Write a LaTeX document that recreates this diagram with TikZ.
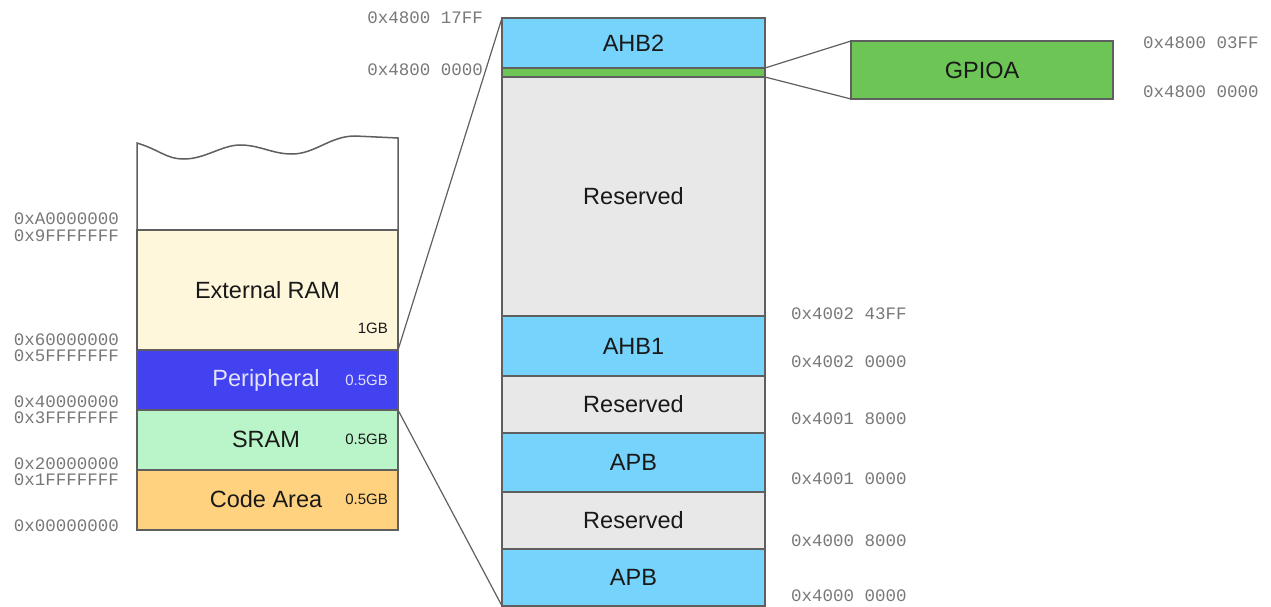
\documentclass[tikz,border=0pt]{standalone}
\usepackage{fontspec}
\setmainfont{Liberation Sans}
\newfontfamily\addrfont{Liberation Mono}
\definecolor{edge}{RGB}{95,95,95}
\definecolor{extram}{RGB}{255,247,220}
\definecolor{periph}{RGB}{66,66,240}
\definecolor{sram}{RGB}{186,245,202}
\definecolor{codearea}{RGB}{255,210,128}
\definecolor{bus}{RGB}{117,211,252}
\definecolor{resv}{RGB}{232,232,232}
\definecolor{gpio}{RGB}{108,197,84}
\definecolor{addr}{RGB}{120,120,120}
\definecolor{txt}{RGB}{25,25,25}
\definecolor{lighttxt}{RGB}{226,226,255}
\tikzset{
  region/.style={draw=edge, line width=1.5pt, inner sep=0pt, outer sep=0pt, text=txt,
    font=\fontsize{23.5}{23.5}\selectfont},
  addrlbl/.style={inner sep=0pt, text=addr, font=\addrfont\fontsize{17.5}{17.5}\selectfont},
  sizelbl/.style={inner sep=0pt, anchor=east, text=txt, font=\fontsize{15}{15}\selectfont},
  bigtxt/.style={inner sep=0pt, font=\fontsize{23.5}{23.5}\selectfont},
  zoomline/.style={draw=edge, line width=1.2pt}
}
\begin{document}
\begin{tikzpicture}[x=1pt,y=-1pt]
\useasboundingbox (0,0) rectangle (1271,607);
% left column top (wavy)
\draw[edge, line width=1.5pt, fill=white] (137,230) -- (137,143)
  .. controls (160,150) and (166,159) .. (184,159)
  .. controls (205,159) and (222,145) .. (240,145)
  .. controls (260,145) and (272,154) .. (292,154)
  .. controls (315,154) and (330,136) .. (355,136)
  -- (398,138) -- (398,230);
% left column
\node[region, fill=extram, minimum width=261pt, minimum height=120pt] (ext) at (267.5,290) {External RAM};
\node[region, fill=periph, minimum width=261pt, minimum height=60pt] (per) at (267.5,380) {};
\node[region, fill=sram, minimum width=261pt, minimum height=60pt] (sram) at (267.5,440) {};
\node[region, fill=codearea, minimum width=261pt, minimum height=60pt] (code) at (267.5,500) {};
\node[bigtxt, text=lighttxt] (pertxt) at (266,380) {Peripheral};
\node[bigtxt, text=txt] (sramtxt) at (266,439) {SRAM};
\node[bigtxt, text=txt] (codetxt) at (266,499) {Code Area};
\node[sizelbl] (s1) at (388,328) {1GB};
\node[sizelbl, text=lighttxt] (s2) at (388,380) {0.5GB};
\node[sizelbl] (s3) at (388,439) {0.5GB};
\node[sizelbl] (s4) at (388,499) {0.5GB};
% left addresses
\node[addrlbl, anchor=east] (a1) at (119,219) {0xA0000000};
\node[addrlbl, anchor=east] (a2) at (119,236) {0x9FFFFFFF};
\node[addrlbl, anchor=east] (a3) at (119,340) {0x60000000};
\node[addrlbl, anchor=east] (a4) at (119,356) {0x5FFFFFFF};
\node[addrlbl, anchor=east] (a5) at (119,402) {0x40000000};
\node[addrlbl, anchor=east] (a6) at (119,418) {0x3FFFFFFF};
\node[addrlbl, anchor=east] (a7) at (119,464) {0x20000000};
\node[addrlbl, anchor=east] (a8) at (119,480) {0x1FFFFFFF};
\node[addrlbl, anchor=east] (a9) at (119,526) {0x00000000};
% middle column
\node[region, fill=bus, minimum width=263pt, minimum height=50pt] (ahb2) at (633.5,43) {AHB2};
\node[region, fill=resv, minimum width=263pt, minimum height=239pt] (res1) at (633.5,196.5) {Reserved};
\node[region, fill=gpio, line width=1.2pt, minimum width=263pt, minimum height=9pt] (band) at (633.5,72.5) {};
\node[region, fill=bus, minimum width=263pt, minimum height=60pt] (ahb1) at (633.5,346) {AHB1};
\node[region, fill=resv, minimum width=263pt, minimum height=57pt] (res2) at (633.5,404.5) {Reserved};
\node[region, fill=bus, minimum width=263pt, minimum height=59pt] (apb1) at (633.5,462.5) {APB};
\node[region, fill=resv, minimum width=263pt, minimum height=57pt] (res3) at (633.5,520.5) {Reserved};
\node[region, fill=bus, minimum width=263pt, minimum height=57pt] (apb2) at (633.5,577.5) {APB};
% GPIOA
\node[region, fill=gpio, minimum width=262pt, minimum height=58pt] (gpioa) at (982,70) {GPIOA};
% zoom lines
\draw[zoomline] (per.north east) -- (ahb2.north west);
\draw[zoomline] (per.south east) -- (apb2.south west);
\draw[zoomline] (band.north east) -- (gpioa.north west);
\draw[zoomline] (band.south east) -- (gpioa.south west);
% middle addresses
\node[addrlbl, anchor=east] (m1) at (483,18) {0x4800 17FF};
\node[addrlbl, anchor=east] (m2) at (483,70) {0x4800 0000};
\node[addrlbl, anchor=west] (r1) at (791,314) {0x4002 43FF};
\node[addrlbl, anchor=west] (r2) at (791,362) {0x4002 0000};
\node[addrlbl, anchor=west] (r3) at (791,419) {0x4001 8000};
\node[addrlbl, anchor=west] (r4) at (791,479) {0x4001 0000};
\node[addrlbl, anchor=west] (r5) at (791,541) {0x4000 8000};
\node[addrlbl, anchor=west] (r6) at (791,596) {0x4000 0000};
\node[addrlbl, anchor=west] (g1) at (1143,43) {0x4800 03FF};
\node[addrlbl, anchor=west] (g2) at (1143,92) {0x4800 0000};
\end{tikzpicture}
\end{document}
